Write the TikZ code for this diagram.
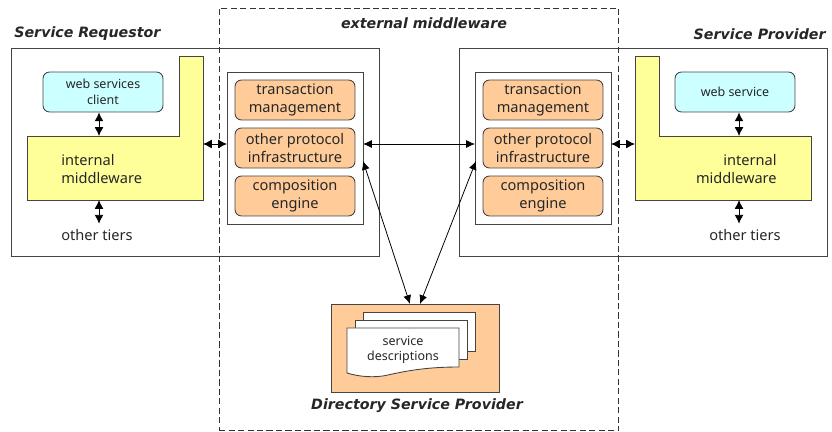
\documentclass[tikz,border=0pt]{standalone}
\usepackage{fontspec}
\setmainfont{Noto Sans}
\newfontfamily\headfont{DejaVu Sans}
\definecolor{tierorange}{HTML}{FFCC99}
\definecolor{tieryellow}{HTML}{FFFF99}
\definecolor{tiercyan}{HTML}{CCFFFF}
\definecolor{tierline}{HTML}{444444}
\usetikzlibrary{arrows.meta}
\begin{document}
\begin{tikzpicture}[x=0.02cm, y=-0.02cm,
  every node/.style={text=black!85},
  frame/.style={draw=tierline, line width=0.5pt},
  module/.style={draw=tierline, line width=0.5pt, fill=tierorange, rounded corners=0.13cm,
    minimum width=2.4cm, minimum height=0.8cm, inner sep=0pt, align=center, font=\fontsize{8.3}{10.6}\selectfont},
  client/.style={module, fill=tiercyan, font=\fontsize{7.1}{9}\selectfont},
  tiers/.style={inner sep=0pt, minimum height=0.44cm, font=\fontsize{8.3}{10.6}\selectfont},
  title/.style={inner sep=0pt, font=\headfont\bfseries\itshape\fontsize{8.1}{10}\selectfont},
  link/.style={black, line width=0.5pt, {Latex[length=5pt,width=5pt]}-{Latex[length=5pt,width=5pt]}},
  query/.style={black, line width=0.45pt, {Latex[length=5pt,width=4.5pt]}-{Latex[length=5pt,width=4.5pt]}},
  sheet/.style={draw=tierline, line width=0.5pt, fill=white}]
\useasboundingbox (0,0) rectangle (832,432);

% Requestor side
\node[frame, minimum width=7.36cm, minimum height=4.16cm, inner sep=0pt] (requestor) at (195,152) {};
\node[title, anchor=west] (requestortitle) at (14,34) {Service Requestor};
\draw[frame, fill=tieryellow] (179,56) -- (203,56) -- (203,200) -- (27,200) -- (27,136) -- (179,136) -- cycle;
\node[inner sep=0pt, anchor=west, align=left, font=\fontsize{8.3}{10.6}\selectfont] (reqtext) at (61,169) {internal\\middleware};
\node[client] (webclient) at (103,92) {web services\\client};
\node[tiers] (reqtiers) at (97,235) {other tiers};
\coordinate (reqtop) at (99,136);
\coordinate (reqbottom) at (99,200);
\coordinate (reqedge) at (203,144);

% Provider side
\node[frame, minimum width=7.36cm, minimum height=4.16cm, inner sep=0pt] (provider) at (643,152) {};
\node[title, anchor=east] (providertitle) at (826,34) {Service Provider};
\draw[frame, fill=tieryellow] (635,56) -- (659,56) -- (659,136) -- (811,136) -- (811,200) -- (635,200) -- cycle;
\node[inner sep=0pt, anchor=east, align=right, font=\fontsize{8.3}{10.6}\selectfont] (provtext) at (777,169) {internal\\middleware};
\node[client] (webservice) at (735,92) {web service};
\node[tiers] (provtiers) at (745,235) {other tiers};
\coordinate (provtop) at (739,136);
\coordinate (provbottom) at (739,200);
\coordinate (provedge) at (635,144);

% Middleware stacks
\node[frame, fill=white, minimum width=2.72cm, minimum height=3.04cm, inner sep=0pt] (reqstack) at (295,148) {};
\node[module] (reqtrans) at (295,100) {transaction\\management};
\node[module] (reqproto) at (295,148) {other protocol\\infrastructure};
\node[module] (reqcomp) at (295,196) {composition\\engine};
\node[frame, fill=white, minimum width=2.72cm, minimum height=3.04cm, inner sep=0pt] (provstack) at (543,148) {};
\node[module] (provtrans) at (543,100) {transaction\\management};
\node[module] (provproto) at (543,148) {other protocol\\infrastructure};
\node[module] (provcomp) at (543,196) {composition\\engine};
\coordinate (reqport) at (227,144);
\coordinate (reqpeer) at (363,144);
\coordinate (reqdir) at (363,161);
\coordinate (provport) at (611,144);
\coordinate (provpeer) at (475,144);
\coordinate (provdir) at (476,161);

% Directory
\node[frame, fill=tierorange, minimum width=3.36cm, minimum height=1.76cm, inner sep=0pt] (directory) at (415,348) {};
\node[title, anchor=center] (directorytitle) at (417,406) {Directory Service Provider};
\draw[sheet] (363,312) rectangle (475,351);
\draw[sheet] (355,320) rectangle (467,359);
\draw[sheet] (347,328) -- (459,328) -- (459,367) .. controls (430,367) and (410,370) .. (388,375) .. controls (375,378) and (360,377) .. (347,373) -- cycle;
\node[inner sep=0pt, align=center, font=\fontsize{7.1}{8.6}\selectfont] (descriptions) at (403,349.5) {service\\descriptions};
\coordinate (dirleft) at (410,304);
\coordinate (dirright) at (420,304);

% External middleware outline
\node[draw=black!80, dash pattern=on 3.6pt off 1.8pt, line width=0.6pt, minimum width=8cm, minimum height=8.46cm, inner sep=0pt] (external) at (419,219.5) {};
\node[title, anchor=center] (externaltitle) at (424,23) {external middleware};

% Connections
\draw[link] (webclient.south -| reqtop) -- (reqtop);
\draw[link] (reqbottom) -- (reqtiers.north -| reqbottom);
\draw[link] (reqedge) -- (reqport);
\draw[link] (webservice.south -| provtop) -- (provtop);
\draw[link] (provbottom) -- (provtiers.north -| provbottom);
\draw[link] (provport) -- (provedge);
\draw[query] (reqpeer) -- (provpeer);
\draw[query] (reqdir) -- (dirleft);
\draw[query] (provdir) -- (dirright);
\end{tikzpicture}
\end{document}
